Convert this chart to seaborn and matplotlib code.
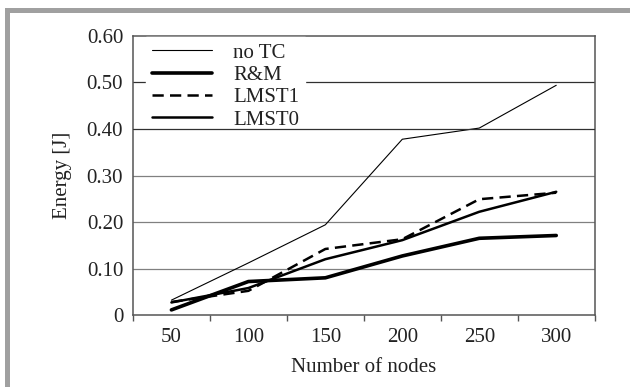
import matplotlib
matplotlib.use("Agg")
import matplotlib.pyplot as plt
import seaborn as sns
from matplotlib.patches import Rectangle

nodes = ["50", "100", "150", "200", "250", "300"]
no_tc = [0.032, 0.112, 0.194, 0.378, 0.402, 0.494]
rm = [0.011, 0.072, 0.080, 0.127, 0.165, 0.171]
lmst1 = [0.028, 0.052, 0.142, 0.163, 0.249, 0.263]
lmst0 = [0.027, 0.058, 0.120, 0.161, 0.222, 0.265]
y_ticks = [0, 0.1, 0.2, 0.3, 0.4, 0.5, 0.6]
y_labels = ["0", "0.10", "0.20", "0.30", "0.40", "0.50", "0.60"]

sns.set_theme(style="white")
plt.rcParams['font.family'] = ['Liberation Serif', 'DejaVu Serif']

FS = 15

fig = plt.figure(figsize=(6.3, 3.87), dpi=100)
ax = fig.add_axes([0.211, 0.186, 0.733, 0.721])

# gridlines (0.4 drawn above the legend box, as in the reference)
grid_style = {0.1: ("#808080", 0), 0.2: ("#808080", 0), 0.3: ("#808080", 0),
              0.4: ("#303030", 6), 0.5: ("#303030", 0)}
for v, (c, z) in grid_style.items():
    ax.axhline(v, color=c, lw=0.9, zorder=z)

series = [("no TC", no_tc, 0.8, "-"),
          ("R&M", rm, 2.6, "-"),
          ("LMST1", lmst1, 1.8, (0, (4.5, 2.5))),
          ("LMST0", lmst0, 1.8, "-")]
for name, vals, lw, ls in series:
    sns.lineplot(x=nodes, y=vals, ax=ax, color="black", lw=lw, linestyle=ls,
                 label=name, sort=False, zorder=3)

ax.set_xlim(-0.5, 5.5)
ax.set_ylim(0, 0.6)
ax.set_xticks([-0.5, 0.5, 1.5, 2.5, 3.5, 4.5, 5.5], labels=[""] * 7)
ax.set_xticks(range(6), labels=nodes, minor=True)
ax.tick_params(axis="x", which="major", direction="out", length=4, width=1, color="#555555", bottom=True)
ax.tick_params(axis="x", which="minor", length=0, pad=9, labelsize=FS, colors="#222222")
ax.set_yticks(y_ticks, labels=y_labels)
ax.tick_params(axis="y", length=0, pad=7, labelsize=FS, colors="#222222")

for s in ax.spines.values():
    s.set_color("#555555")
    s.set_linewidth(1.1)

ax.set_xlabel("Number of nodes", fontsize=FS, color="#222222", labelpad=8)
ax.set_ylabel("Energy [J]", fontsize=FS, color="#222222", labelpad=10.5)

leg = ax.legend(loc="upper left", bbox_to_anchor=(0.0275, 0.997), borderaxespad=0,
                borderpad=0.3, fontsize=FS, handlelength=2.9, handletextpad=1.0,
                labelspacing=0.13, frameon=True, fancybox=False)
leg.get_frame().set_facecolor("white")
leg.get_frame().set_edgecolor("white")
leg.get_frame().set_alpha(1)
for t in leg.get_texts():
    t.set_color("#222222")

# gray frame
fig.add_artist(Rectangle((0.008, 0.967), 0.992, 0.0116, transform=fig.transFigure,
                         color="#a0a0a0", lw=0))
fig.add_artist(Rectangle((0.008, 0.0), 0.0074, 0.9786, transform=fig.transFigure,
                         color="#a0a0a0", lw=0))

fig.savefig("out.png", dpi=100)
